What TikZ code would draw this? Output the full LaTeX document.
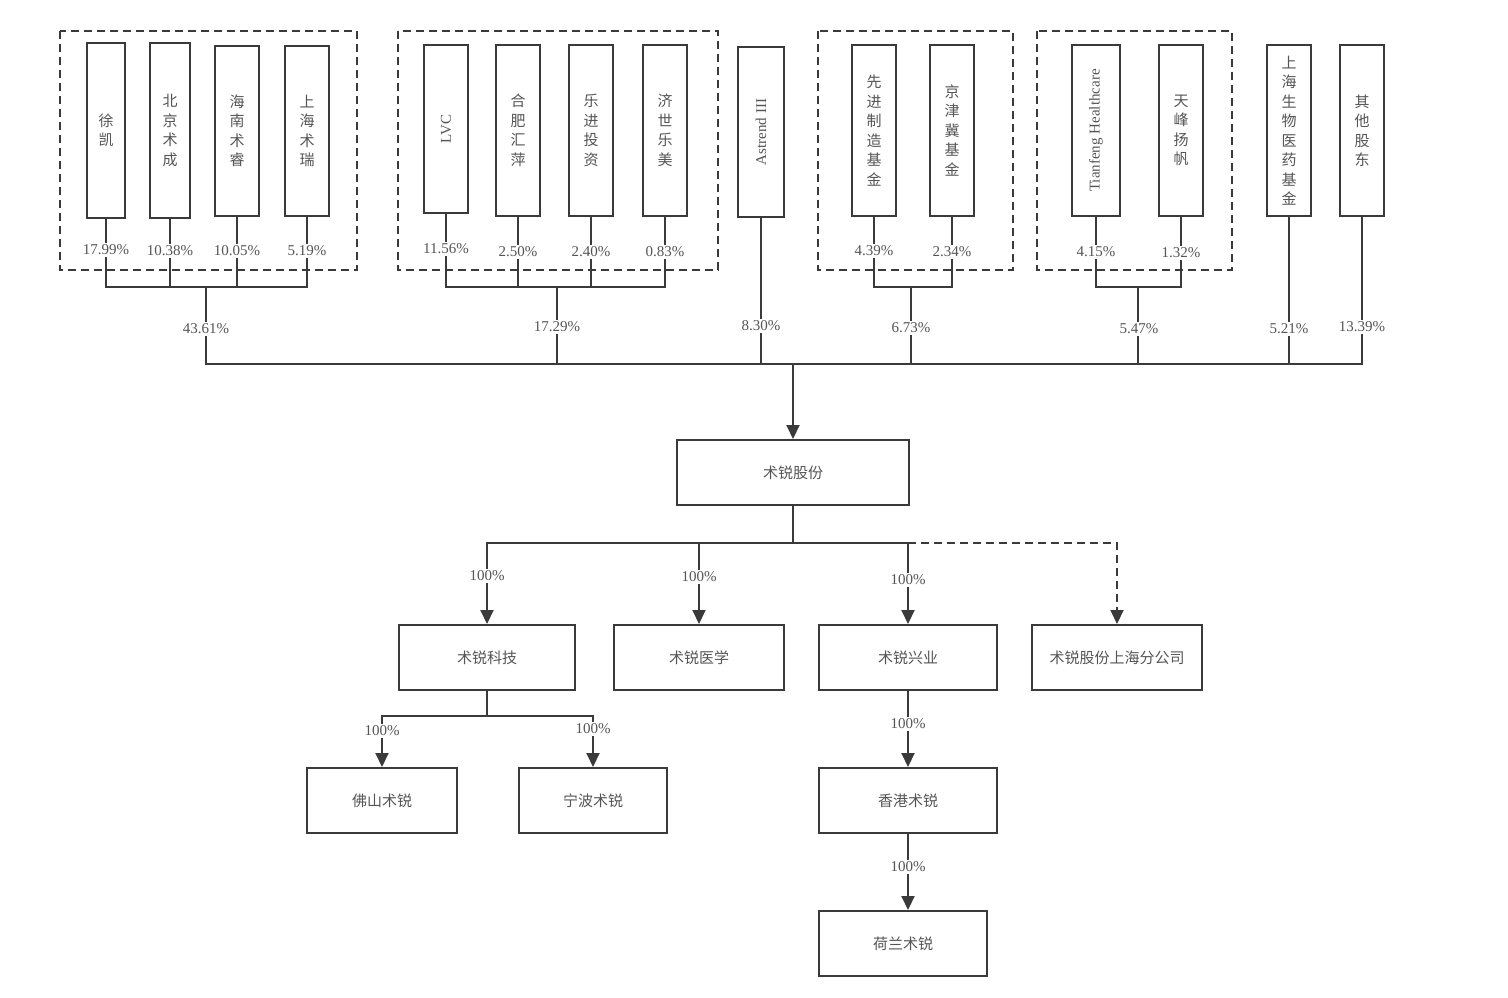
\documentclass[tikz,border=0pt]{standalone}
\usepackage{fontspec}
\setmainfont{Liberation Serif}
\newfontfamily\cjk{Noto Sans CJK SC}
\usetikzlibrary{arrows.meta}
\definecolor{linec}{HTML}{3A3A3A}
\definecolor{textc}{HTML}{555555}
\begin{document}
\begin{tikzpicture}[x=1pt,y=-1pt,
  box/.style={draw=linec, line width=2pt, fill=white, inner sep=0pt, text=textc},
  vbox/.style={box, align=center, font=\cjk\fontsize{15}{19.5}\selectfont},
  hbox/.style={box, font=\cjk\fontsize{15}{18}\selectfont},
  grp/.style={draw=linec, line width=2pt, dash pattern=on 8pt off 5pt},
  conn/.style={draw=linec, line width=2pt},
  dconn/.style={conn, dash pattern=on 8pt off 5pt},
  arr/.style={-{Triangle[length=14pt,width=13pt]}},
  pct/.style={fill=white, inner sep=1.5pt, text=textc, font=\fontsize{15}{15}\selectfont},
  rtext/.style={rotate=90, text=textc, font=\fontsize{15}{15}\selectfont}
]
\useasboundingbox (0,0) rectangle (1508,998);
\fill[white] (0,0) rectangle (1508,998);

% dashed groups
\draw[grp] (60,31) rectangle (357,270);
\draw[grp] (398,31) rectangle (718,270);
\draw[grp] (818,31) rectangle (1013,270);
\draw[grp] (1037,31) rectangle (1232,270);

% shareholders
\node[vbox, minimum width=38, minimum height=175] (xk) at (106,130.5) {徐\\凯};
\node[vbox, minimum width=40, minimum height=175] (bj) at (170,130.5) {北\\京\\术\\成};
\node[vbox, minimum width=44, minimum height=170] (hn) at (237,131) {海\\南\\术\\睿};
\node[vbox, minimum width=44, minimum height=170] (shr) at (307,131) {上\\海\\术\\瑞};

\node[box, minimum width=44, minimum height=168,
  label={[rtext]center:LVC}] (lvc) at (446,129) {};
\node[vbox, minimum width=44, minimum height=171] (hf) at (518,130.5) {合\\肥\\汇\\萍};
\node[vbox, minimum width=44, minimum height=171] (lj) at (591,130.5) {乐\\进\\投\\资};
\node[vbox, minimum width=44, minimum height=171] (js) at (665,130.5) {济\\世\\乐\\美};

\node[box, minimum width=46, minimum height=170,
  label={[rtext]center:Astrend III}] (ast) at (761,132) {};

\node[vbox, minimum width=44, minimum height=171] (xj) at (874,130.5) {先\\进\\制\\造\\基\\金};
\node[vbox, minimum width=44, minimum height=171] (jjj) at (952,130.5) {京\\津\\冀\\基\\金};

\node[box, minimum width=48, minimum height=171,
  label={[rtext]center:Tianfeng Healthcare}] (tf) at (1096,130.5) {};
\node[vbox, minimum width=44, minimum height=171] (tfy) at (1181,130.5) {天\\峰\\扬\\帆};

\node[vbox, minimum width=44, minimum height=171] (shsw) at (1289,130.5) {上\\海\\生\\物\\医\\药\\基\\金};
\node[vbox, minimum width=44, minimum height=171] (qt) at (1362,130.5) {其\\他\\股\\东};

% junction coordinates
\coordinate (g1) at (206,287);
\coordinate (g2) at (557,287);
\coordinate (g3) at (911,287);
\coordinate (g4) at (1138,287);
\coordinate (bus) at (793,364);

% group 1
\draw[conn] (xk.south) -- (xk.south |- g1) -| (shr.south);
\draw[conn] (bj.south) -- (bj.south |- g1);
\draw[conn] (hn.south) -- (hn.south |- g1);
\node[pct] (p1a) at (xk.south |- 0,250) {17.99\%};
\node[pct] (p1b) at (bj.south |- 0,251) {10.38\%};
\node[pct] (p1c) at (hn.south |- 0,251) {10.05\%};
\node[pct] (p1d) at (shr.south |- 0,251) {5.19\%};

% group 2
\draw[conn] (lvc.south) -- (lvc.south |- g2) -| (js.south);
\draw[conn] (hf.south) -- (hf.south |- g2);
\draw[conn] (lj.south) -- (lj.south |- g2);
\node[pct] (p2a) at (lvc.south |- 0,249) {11.56\%};
\node[pct] (p2b) at (hf.south |- 0,252) {2.50\%};
\node[pct] (p2c) at (lj.south |- 0,252) {2.40\%};
\node[pct] (p2d) at (js.south |- 0,252) {0.83\%};

% group 3
\draw[conn] (xj.south) -- (xj.south |- g3) -| (jjj.south);
\node[pct] (p3a) at (xj.south |- 0,251) {4.39\%};
\node[pct] (p3b) at (jjj.south |- 0,252) {2.34\%};

% group 4
\draw[conn] (tf.south) -- (tf.south |- g4) -| (tfy.south);
\node[pct] (p4a) at (tf.south |- 0,252) {4.15\%};
\node[pct] (p4b) at (tfy.south |- 0,253) {1.32\%};

% main bus
\draw[conn] (g1) -- (g1 |- bus) -- (qt.south |- bus) -- (qt.south);
\draw[conn] (g2) -- (g2 |- bus);
\draw[conn] (ast.south) -- (ast.south |- bus);
\draw[conn] (g3) -- (g3 |- bus);
\draw[conn] (g4) -- (g4 |- bus);
\draw[conn] (shsw.south) -- (shsw.south |- bus);
\node[pct] (q1) at (206,329) {43.61\%};
\node[pct] (q2) at (557,327) {17.29\%};
\node[pct] (q3) at (761,326) {8.30\%};
\node[pct] (q4) at (911,328) {6.73\%};
\node[pct] (q5) at (1139,329) {5.47\%};
\node[pct] (q6) at (1289,329) {5.21\%};
\node[pct] (q7) at (1362,327) {13.39\%};

% company
\node[hbox, minimum width=232, minimum height=65] (sr) at (793,472.5) {术锐股份};
\draw[conn, arr] (bus) -- (sr.north);

% subsidiaries
\node[hbox, minimum width=176, minimum height=65] (kj) at (487,657.5) {术锐科技};
\node[hbox, minimum width=170, minimum height=65] (yx) at (699,657.5) {术锐医学};
\node[hbox, minimum width=178, minimum height=65] (xy) at (908,657.5) {术锐兴业};
\node[hbox, minimum width=170, minimum height=65] (fgs) at (1117,657.5) {术锐股份上海分公司};

\coordinate (b2) at (793,543);
\draw[conn] (sr.south) -- (b2);
\draw[conn, arr] (b2) -- (kj.north |- b2) -- (kj.north);
\draw[conn, arr] (yx.north |- b2) -- (yx.north);
\draw[conn, arr] (b2) -- (xy.north |- b2) -- (xy.north);
\draw[dconn, arr] (xy.north |- b2) -- (fgs.north |- b2) -- (fgs.north);
\node[pct] (r1) at (487,576) {100\%};
\node[pct] (r2) at (699,577) {100\%};
\node[pct] (r3) at (908,580) {100\%};

% second level
\node[hbox, minimum width=150, minimum height=65] (fs) at (382,800.5) {佛山术锐};
\node[hbox, minimum width=148, minimum height=65] (nb) at (593,800.5) {宁波术锐};
\node[hbox, minimum width=178, minimum height=65] (hk) at (908,800.5) {香港术锐};
\node[hbox, minimum width=168, minimum height=65] (nl) at (903,943.5) {荷兰术锐};

\coordinate (b3) at (487,716);
\draw[conn] (kj.south) -- (b3);
\draw[conn, arr] (b3) -- (fs.north |- b3) -- (fs.north);
\draw[conn, arr] (b3) -- (nb.north |- b3) -- (nb.north);
\node[pct] (s1) at (382,731) {100\%};
\node[pct] (s2) at (593,729) {100\%};

\draw[conn, arr] (xy.south) -- (xy.south |- hk.north);
\node[pct] (s3) at (908,724) {100\%};
\draw[conn, arr] (xy.south |- hk.south) -- (xy.south |- nl.north);
\node[pct] (s4) at (908,867) {100\%};
\end{tikzpicture}
\end{document}
